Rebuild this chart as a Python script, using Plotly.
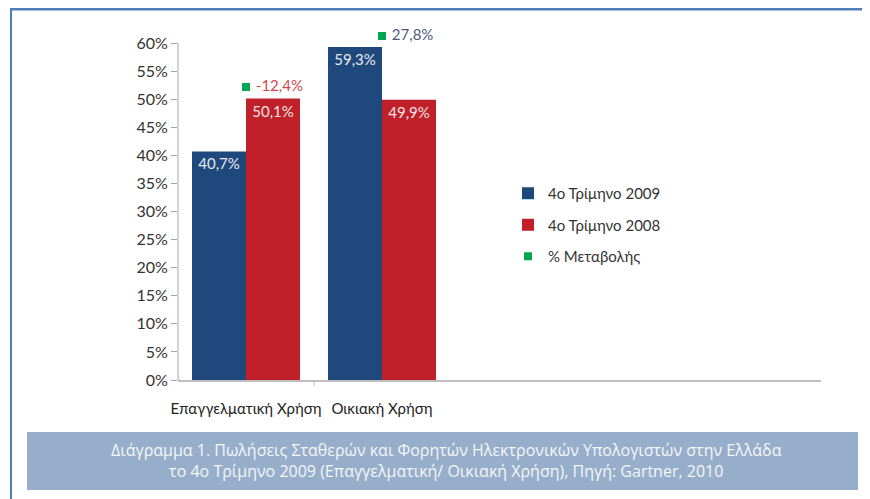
import plotly.graph_objects as go

# data
categories = ["Επαγγελματική Χρήση", "Οικιακή Χρήση"]
q4_2009 = [40.7, 59.3]
q4_2008 = [50.1, 49.9]
pct_change = [-12.4, 27.8]
y_ticks = [0, 5, 10, 15, 20, 25, 30, 35, 40, 45, 50, 55, 60]

caption = ("Διάγραμμα 1. Πωλήσεις Σταθερών και Φορητών Ηλεκτρονικών Υπολογιστών στην Ελλάδα<br>"
           "το 4ο Τρίμηνο 2009 (Επαγγελματική/ Οικιακή Χρήση), Πηγή: Gartner, 2010")

BLUE = "#1F497D"
RED = "#C0202A"
GREEN = "#00A651"
FRAME = "#4F7FB8"
FONT = "Lato, 'Open Sans', sans-serif"

# the page body has an 8px margin, so the figure is a bit smaller than the window
OFF = 8
W, H = 870 - OFF, 499 - OFF
# plot area in window pixels (y axis 0% at 380, 60% at 43)
L, R, T, B = 178, 821, 28, 380
Y60 = 43
y_max = 60 * (B - T) / (B - Y60)


def px_x(p):
    return (p - L) / (R - L)


def px_y(p):
    return (B - p) / (B - T)


def fmt(v):
    return f"{v:.1f}%".replace(".", ",")


xs = list(range(len(categories)))

fig = go.Figure()
fig.add_trace(go.Bar(
    x=xs, y=q4_2009, name="4ο Τρίμηνο 2009",
    marker=dict(color=BLUE, line=dict(width=0)),
    text=[fmt(v) for v in q4_2009], textposition="inside", insidetextanchor="end",
    textfont=dict(size=15, color="#E8EAF2", family=FONT),
    legendgroup="a",
))
fig.add_trace(go.Bar(
    x=xs, y=q4_2008, name="4ο Τρίμηνο 2008",
    marker=dict(color=RED, line=dict(width=0)),
    text=[fmt(v) for v in q4_2008], textposition="inside", insidetextanchor="end",
    textfont=dict(size=15, color="#F2E4E4", family=FONT),
    legendgroup="b",
))
fig.add_trace(go.Scatter(
    x=xs, y=pct_change, name="% Μεταβολής", yaxis="y2",
    mode="markers+text",
    marker=dict(symbol="square", size=8, color=GREEN),
    text=[" " + fmt(v) for v in pct_change], textposition="middle right",
    textfont=dict(size=15, color=["#D04848", "#4F5A7A"], family=FONT),
    cliponaxis=False,
    legendgroup="c",
))

# secondary axis scale so the change markers sit where they do in the original
k = (87 - 36) / (pct_change[1] - pct_change[0])
y2_lo = pct_change[0] - (B - 87) / k
y2_hi = pct_change[0] + (87 - T) / k

fig.update_layout(
    width=W, height=H,
    margin=dict(l=L - OFF, r=W + OFF - R, t=T - OFF, b=H + OFF - B, pad=0),
    paper_bgcolor="white", plot_bgcolor="white",
    font=dict(family=FONT, size=15, color="#333333"),
    barmode="group", bargap=0.206, bargroupgap=0,
    showlegend=True,
    legend=dict(
        x=px_x(508), y=px_y(177), xanchor="left", yanchor="top",
        font=dict(size=15, color="#333333"),
        tracegroupgap=9, itemwidth=30, bgcolor="rgba(0,0,0,0)",
    ),
    xaxis=dict(
        range=[-0.5, (R - L) / 136 - 0.5],
        tickvals=xs, ticktext=categories, ticks="",
        showgrid=False, zeroline=False,
        showline=True, linecolor="#BFBFBF", linewidth=2,
        tickfont=dict(size=15, color="#222222"),
        ticklabelstandoff=14,
        fixedrange=True,
    ),
    yaxis=dict(
        range=[0, y_max], tickvals=y_ticks,
        ticktext=[f"{v}%" for v in y_ticks],
        showgrid=False, zeroline=False, showline=False,
        ticks="outside", ticklen=6, tickcolor="#A6A6A6",
        tickfont=dict(size=16, color="#333333"),
    ),
    yaxis2=dict(
        range=[y2_lo, y2_hi], overlaying="y", side="right",
        visible=False,
    ),
)

shapes = [
    # y axis line, only up to the 60% tick
    dict(type="line", xref="paper", yref="y", x0=0, x1=0,
         y0=0, y1=y_ticks[-1], line=dict(color="#A6A6A6", width=1)),
    # category divider tick on the x axis
    dict(type="line", xref="x", yref="paper", x0=0.5, x1=0.5,
         y0=0, y1=px_y(386), line=dict(color="#BFBFBF", width=1)),
    # blue frame: top and left edges
    dict(type="line", xref="paper", yref="paper", x0=px_x(10), x1=px_x(880),
         y0=px_y(9), y1=px_y(9), line=dict(color=FRAME, width=3)),
    dict(type="line", xref="paper", yref="paper", x0=px_x(11), x1=px_x(11),
         y0=px_y(8), y1=px_y(510), line=dict(color=FRAME, width=2)),
    # caption box
    dict(type="rect", xref="paper", yref="paper", layer="below",
         x0=px_x(27), x1=px_x(858), y0=px_y(490), y1=px_y(432),
         fillcolor="#97AECB", line=dict(width=0)),
]
fig.update_layout(shapes=shapes)

fig.add_annotation(
    text=caption, xref="paper", yref="paper",
    x=px_x(446), y=px_y(461), xanchor="center", yanchor="middle",
    showarrow=False, align="center",
    font=dict(family="'Open Sans', sans-serif", size=16, color="#F4F6FA"),
)

fig.write_html("out.html")
